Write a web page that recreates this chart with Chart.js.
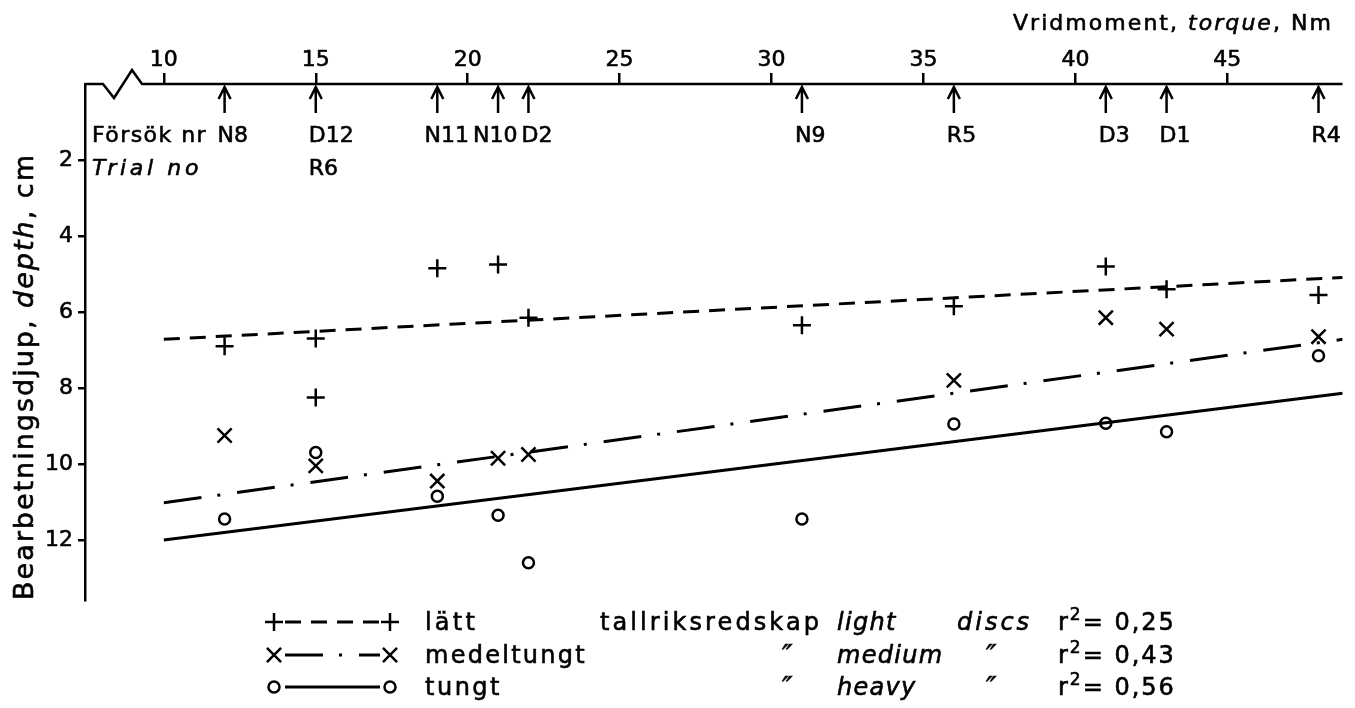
<!DOCTYPE html>
<html>
<head>
<meta charset="utf-8">
<script src="https://cdn.jsdelivr.net/npm/chart.js@4.4.0/dist/chart.umd.min.js"></script>
<style>
  html, body { margin: 0; padding: 0; background: #fff; }
</style>
</head>
<body>
<canvas id="chart" width="1355" height="708"></canvas>
<script>
// trials on the top axis: torque (Nm) and name
const trialTorque = [12, 15, 19, 21, 22, 31, 36, 41, 43, 48];
const trialNames = ['N8', 'D12', 'N11', 'N10', 'D2', 'N9', 'R5', 'D3', 'D1', 'R4'];
const trialNames2 = ['', 'R6', '', '', '', '', '', '', '', ''];

const torqueTicks = [10, 15, 20, 25, 30, 35, 40, 45];
const depthTicks = [2, 4, 6, 8, 10, 12];

// lätt (+)
const lightX = [12, 15, 15, 19, 21, 22, 31, 36, 41, 43, 48];
const lightY = [6.9, 6.7, 8.25, 4.85, 4.75, 6.15, 6.35, 5.85, 4.8, 5.4, 5.55];
// medeltungt (x)
const mediumX = [12, 15, 19, 21, 22, 36, 41, 43, 48];
const mediumY = [9.25, 10.05, 10.45, 9.85, 9.75, 7.8, 6.15, 6.45, 6.65];
// tungt (o)
const heavyX = [12, 15, 19, 21, 22, 31, 36, 41, 43, 48];
const heavyY = [11.45, 9.7, 10.85, 11.35, 12.6, 11.45, 8.95, 8.93, 9.15, 7.15];

// regression lines, end points
const fitX = [10, 48.8];
const lightFitY = [6.72, 5.09];
const mediumFitY = [11.02, 6.72];
const heavyFitY = [12.0, 8.14];

const legendNames = ['lätt', 'medeltungt', 'tungt'];
const legendEn = ['light', 'medium', 'heavy'];
const rSquared = ['0,25', '0,43', '0,56'];

const FONT = '"DejaVu Sans", sans-serif';
const FS = 22;   // axis text
const LS = 24;   // legend text
const STROKE = 0.6;

function font(size, italic) {
  return (italic ? 'italic ' : '') + size + 'px ' + FONT;
}

function toPoints(xs, ys) {
  return xs.map((x, i) => ({ x: x, y: ys[i] }));
}

// letter spacing that makes the parts span a given width
function fitSpacing(ctx, parts, size, target) {
  ctx.letterSpacing = '0px';
  let w = 0, n = 0;
  parts.forEach(p => {
    ctx.font = font(size, p[1]);
    w += ctx.measureText(p[0]).width;
    n += p[0].length;
  });
  return Math.max(0, (target - w) / n);
}

// text parts one after another, p = [text, italic]
function drawParts(ctx, x, y, parts, size, spacing) {
  ctx.letterSpacing = spacing + 'px';
  ctx.lineWidth = STROKE;
  parts.forEach(p => {
    ctx.font = font(size, p[1]);
    ctx.fillText(p[0], x, y);
    ctx.strokeText(p[0], x, y);
    x += ctx.measureText(p[0]).width;
  });
  return x;
}

const marks = [
  { pointStyle: 'cross', radius: 9, borderWidth: 2.5, dash: [16, 10] },
  { pointStyle: 'crossRot', radius: 10, borderWidth: 2.5, dash: [38, 16, 3, 17] },
  { pointStyle: 'circle', radius: 5.5, borderWidth: 2.5, dash: [] }
];

const decor = {
  id: 'decor',
  beforeDraw(chart) {
    chart.ctx.letterSpacing = '0px';
  },
  afterDraw(chart) {
    const ctx = chart.ctx, xs = chart.scales.x, a = chart.chartArea;
    const t = a.top, l = a.left;
    ctx.save();
    ctx.fillStyle = '#000';
    ctx.strokeStyle = '#000';
    ctx.lineWidth = 2.5;
    ctx.textAlign = 'left';
    ctx.textBaseline = 'alphabetic';

    // top axis with break
    ctx.beginPath();
    ctx.moveTo(l, t);
    ctx.lineTo(l + 18, t);
    ctx.lineTo(l + 29, t + 14);
    ctx.lineTo(l + 47, t - 14);
    ctx.lineTo(l + 57, t);
    ctx.lineTo(a.right, t);
    ctx.stroke();

    // arrows
    trialTorque.forEach(v => {
      const px = xs.getPixelForValue(v);
      ctx.beginPath();
      ctx.moveTo(px, t + 3);
      ctx.lineTo(px, t + 29);
      ctx.moveTo(px - 6, t + 15);
      ctx.lineTo(px, t + 3);
      ctx.lineTo(px + 6, t + 15);
      ctx.stroke();
    });

    // trial names
    ctx.font = font(FS);
    ctx.letterSpacing = '0px';
    const lefts = trialTorque.map(v => xs.getPixelForValue(v) - 7);
    const widths = trialNames.map(s => ctx.measureText(s).width);
    for (let i = lefts.length - 2; i >= 0; i--) {
      if (lefts[i] + widths[i] + 4 > lefts[i + 1]) lefts[i] = lefts[i + 1] - widths[i] - 4;
    }
    trialNames.forEach((s, i) => drawParts(ctx, lefts[i], t + 58, [[s, false]], FS, 0));
    trialNames2.forEach((s, i) => { if (s) drawParts(ctx, lefts[i], t + 91, [[s, false]], FS, 0); });

    let p = [['Försök nr', false]];
    drawParts(ctx, l + 7, t + 58, p, FS, fitSpacing(ctx, p, FS, 115));
    p = [['Trial no', true]];
    drawParts(ctx, l + 7, t + 91, p, FS, fitSpacing(ctx, p, FS, 110));

    // axis titles
    p = [['Vridmoment, ', false], ['torque', true], [', Nm', false]];
    drawParts(ctx, 1013, 30, p, FS, fitSpacing(ctx, p, FS, 320));

    ctx.save();
    ctx.translate(33, 600);
    ctx.rotate(-Math.PI / 2);
    p = [['Bearbetningsdjup, ', false], ['depth', true], [', cm', false]];
    drawParts(ctx, 0, 0, p, 27, fitSpacing(ctx, p, 27, 447));
    ctx.restore();

    // legend
    const rows = [630, 663, 695];
    const nameW = [53, 162, 77];
    rows.forEach((by, i) => {
      const m = marks[i], cy = by - 8;
      ctx.lineWidth = 3;
      ctx.setLineDash(m.dash);
      ctx.beginPath();
      ctx.moveTo(285, cy);
      ctx.lineTo(380, cy);
      ctx.stroke();
      ctx.setLineDash([]);
      ctx.lineWidth = m.borderWidth;
      ctx.fillStyle = 'rgba(0,0,0,0)';
      [274, 390].forEach(sx => {
        Chart.helpers.drawPoint(ctx, { pointStyle: m.pointStyle, radius: m.radius, borderWidth: m.borderWidth, rotation: 0 }, sx, cy);
      });
      ctx.fillStyle = '#000';
      let q = [[legendNames[i], false]];
      drawParts(ctx, 425, by, q, LS, fitSpacing(ctx, q, LS, nameW[i]));
      if (i === 0) {
        q = [['tallriksredskap', false]];
        drawParts(ctx, 600, by, q, LS, fitSpacing(ctx, q, LS, 222));
      } else {
        drawParts(ctx, 782, by + 2, [['\u2033', true]], 28, 0);
      }
      drawParts(ctx, 837, by, [[legendEn[i], true]], LS, 1.3);
      if (i === 0) drawParts(ctx, 957, by, [['discs', true]], LS, 3);
      else drawParts(ctx, 986, by + 2, [['\u2033', true]], 28, 0);
      let x = drawParts(ctx, 1058, by, [['r', false]], LS, 1);
      x = drawParts(ctx, x + 1, by - 10, [['2', false]], 17, 1);
      drawParts(ctx, x + 1, by, [['= ' + rSquared[i], false]], LS, 2);
    });
    ctx.restore();
  }
};

function pointSet(xs, ys, m) {
  return {
    data: toPoints(xs, ys),
    showLine: false,
    pointStyle: m.pointStyle,
    pointRadius: m.radius,
    pointBorderWidth: m.borderWidth,
    pointBorderColor: '#000',
    pointBackgroundColor: 'rgba(0,0,0,0)',
    order: 0
  };
}

function lineSet(ys, m) {
  return {
    data: toPoints(fitX, ys),
    showLine: true,
    borderColor: '#000',
    borderWidth: 3,
    borderDash: m.dash,
    pointRadius: 0,
    order: 1
  };
}

const tickFont = { family: FONT, size: FS };

new Chart(document.getElementById('chart'), {
  type: 'scatter',
  data: {
    datasets: [
      lineSet(lightFitY, marks[0]),
      lineSet(mediumFitY, marks[1]),
      lineSet(heavyFitY, marks[2]),
      pointSet(lightX, lightY, marks[0]),
      pointSet(mediumX, mediumY, marks[1]),
      pointSet(heavyX, heavyY, marks[2])
    ]
  },
  options: {
    responsive: false,
    animation: false,
    devicePixelRatio: 1,
    layout: { padding: { left: 0, right: 10, top: 0, bottom: 108 } },
    plugins: { legend: { display: false }, tooltip: { enabled: false } },
    scales: {
      x: {
        type: 'linear',
        position: 'top',
        min: 7.406,
        max: 48.79,
        afterBuildTicks: s => { s.ticks = torqueTicks.map(v => ({ value: v })); },
        afterFit: s => { s.height = 84; },
        border: { display: false },
        grid: { drawOnChartArea: false, drawTicks: true, tickLength: 11, lineWidth: 2.5, color: '#000' },
        ticks: { color: '#000', font: tickFont, padding: 0, maxRotation: 0, autoSkip: false,
                 textStrokeColor: '#000', textStrokeWidth: STROKE }
      },
      y: {
        type: 'linear',
        reverse: true,
        min: 0,
        max: 13.58,
        afterBuildTicks: s => { s.ticks = depthTicks.map(v => ({ value: v })); },
        afterFit: s => { s.width = 85; },
        border: { display: true, color: '#000', width: 2.5 },
        grid: { drawOnChartArea: false, drawTicks: true, tickLength: 7, lineWidth: 2.5, color: '#000' },
        ticks: { color: '#000', font: tickFont, padding: 5, autoSkip: false,
                 textStrokeColor: '#000', textStrokeWidth: STROKE }
      }
    }
  },
  plugins: [decor]
});
</script>
</body>
</html>
